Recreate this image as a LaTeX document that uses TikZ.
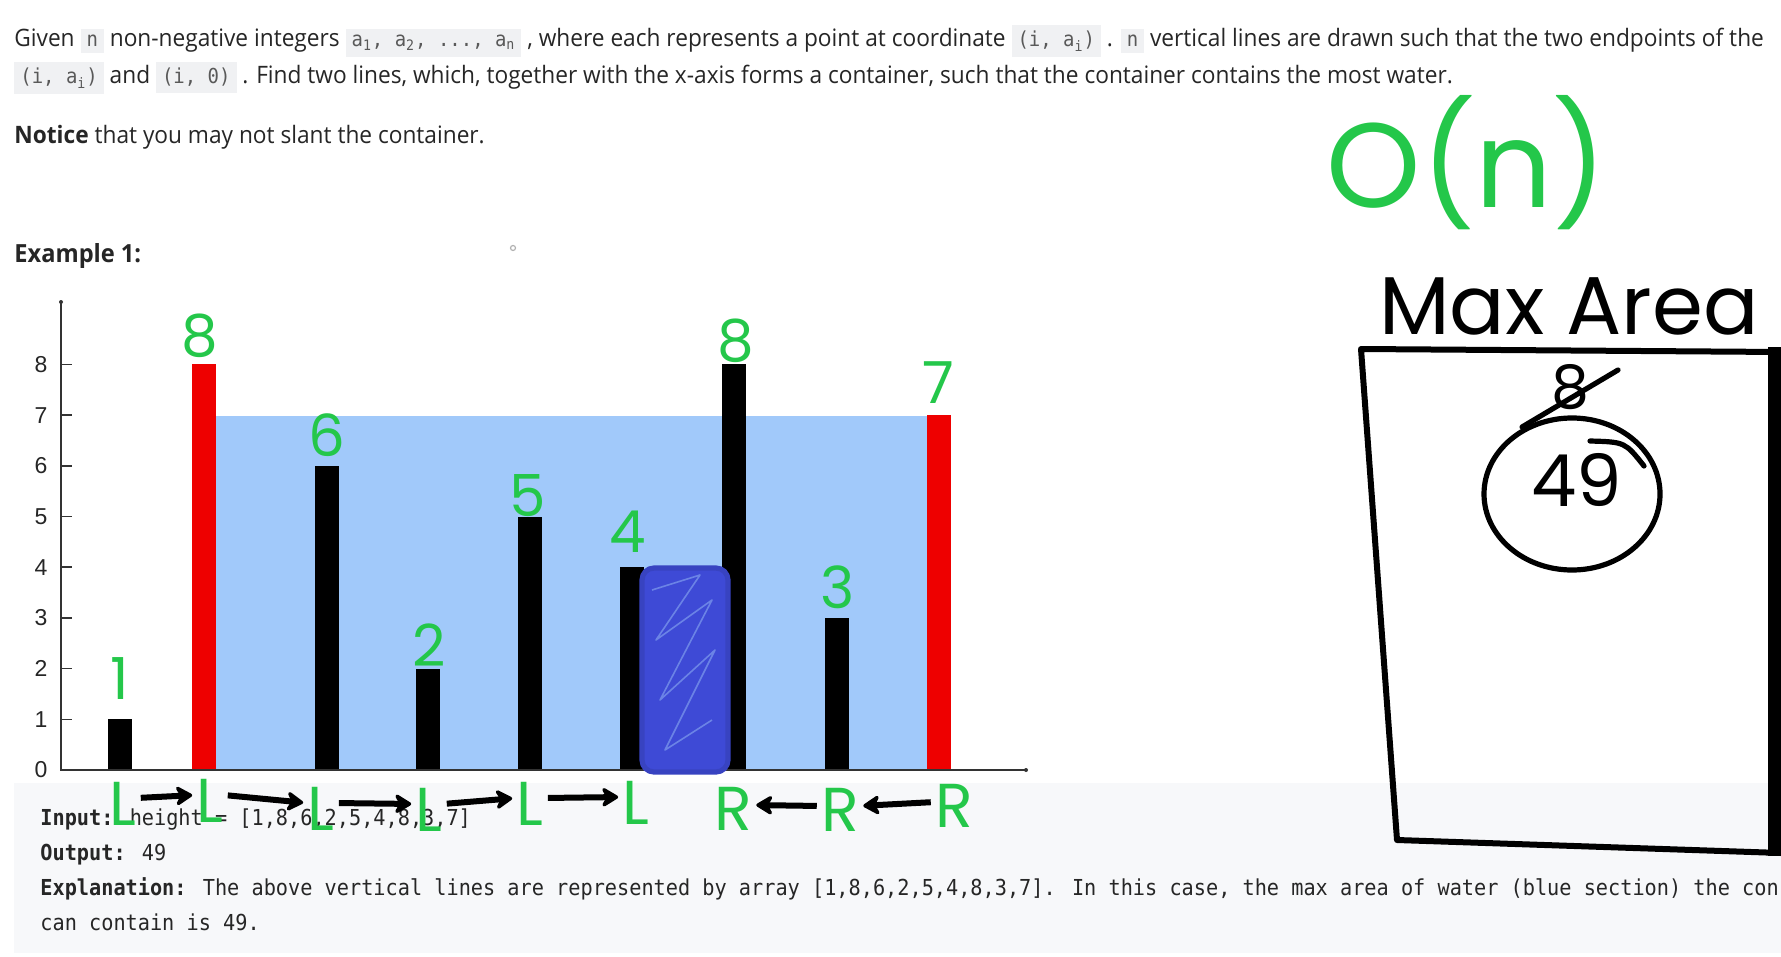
\documentclass[tikz,border=0pt]{standalone}
\usepackage{fontspec}
\usepackage{xcolor}
\usepackage{tikz}
\usetikzlibrary{arrows.meta, positioning, shapes.geometric, calc}

\setmainfont{Open Sans}[FakeStretch=0.945]
\newfontfamily\codefont{DejaVu Sans Mono}[FakeStretch=0.92]
\newfontfamily\handfont{Poppins}
\newfontfamily\chartfont{Liberation Sans}

\definecolor{pengreen}{RGB}{36,199,74}
\definecolor{penblue}{RGB}{62,74,214}
\definecolor{waterblue}{RGB}{161,201,250}
\definecolor{barred}{RGB}{238,0,0}
\definecolor{codebg}{RGB}{247,248,250}
\definecolor{inlinebg}{RGB}{240,241,243}
\definecolor{inktext}{RGB}{38,38,38}

\newcommand{\inl}[1]{{\setlength{\fboxsep}{3pt}\colorbox{inlinebg}{\codefont\fontsize{10.3}{10}\selectfont\color{black!65}#1}}}
\newcommand{\ix}[1]{\textsubscript{#1}}

\begin{document}
\begin{tikzpicture}[x=0.5pt, y=-0.5pt,
    para/.style={anchor=base west, inner sep=0pt, font=\fontsize{12}{14}\selectfont, text=inktext},
    codeline/.style={anchor=base west, inner sep=0pt, font=\codefont\fontsize{11}{13}\selectfont, text=inktext},
    ticklbl/.style={inner sep=0pt, font=\chartfont\fontsize{11.5}{11}\selectfont, text=black!85},
    hand/.style={inner sep=0pt, font=\handfont\fontsize{#1}{#1}\selectfont},
    num/.style={hand=29, text=pengreen},
    ptr/.style={hand=31, text=pengreen},
    move/.style={-{Stealth[length=10pt, width=12pt, round]}, line width=3pt, black, shorten <=2pt, shorten >=2pt},
    pen/.style={line width=2.6pt, black, line cap=round, line join=round},
    axis/.style={line width=0.8pt, black!80}
]

% ---- Page ----
\clip (0,0) rectangle (1781,957);
\fill[white] (0,0) rectangle (1781,957);

% ---- Problem text ----
\node[para] (line1) at (14,47) {Given \inl{n} non-negative integers \inl{a\ix{1}, a\ix{2}, ..., a\ix{n}} , where each represents a point at coordinate \inl{(i, a\ix{i})} . \inl{n} vertical lines are drawn such that the two endpoints of the};
\node[para] (line2) at (14,84) {\inl{(i, a\ix{i})} and \inl{(i, 0)} . Find two lines, which, together with the x-axis forms a container, such that the container contains the most water.};
\node[para] (notice) at (14,144) {\textbf{Notice} that you may not slant the container.};
\node[para, font=\bfseries\fontsize{12.5}{14}\selectfont] (example) at (14,263) {Example 1:};
\draw[black!30, line width=0.6pt] (513,248) circle (2.5);

% ---- Water and bars ----
\fill[waterblue] (216,416) rectangle (927,770);
\foreach \cx/\h/\c in {120/1/black, 204/8/barred, 326.5/6/black, 427.5/2/black, 530/5/black, 632/4/black, 734/8/black, 836.5/3/black, 939/7/barred}
    \fill[\c] (\cx-12,770) rectangle (\cx+12,{770-50.7*\h});

% ---- Axes ----
\draw[axis] (61,302) -- (61,770) -- (1026,770);
\fill[black!80] (61,302) circle (2) (1026,770) circle (2);
\foreach \k in {0,...,8} {
    \draw[axis] (61,{770-50.7*\k}) -- (72,{770-50.7*\k});
    \node[ticklbl] (tick\k) at (41,{770-50.7*\k}) {\k};
}

% ---- Heights written over the bars ----
\node[num] (h1) at (120,679) {1};
\node[num] (h2) at (200,336) {8};
\node[num] (h3) at (327,435) {6};
\node[num] (h4) at (429,645) {2};
\node[num] (h5) at (528,496) {5};
\node[num] (h6) at (628,532) {4};
\node[num] (h7) at (736,341) {8};
\node[num] (h8) at (838,587) {3};
\node[num] (h9) at (938,383) {7};

% ---- Scribbled block ----
\fill[penblue, rounded corners=6pt] (642,568) rectangle (728,772);
\draw[waterblue!45!penblue, line width=0.8pt, line join=round]
    (652,590) -- (700,575) -- (656,640) -- (712,600) -- (660,700) -- (715,650) -- (665,750) -- (712,720);
\draw[pen, penblue!90!black, rounded corners=6pt] (642,568) rectangle (728,772);

% ---- Example code block ----
\fill[codebg] (14,783) rectangle (1781,953);
\node[codeline] (input) at (40,825) {\textbf{Input:} height = [1,8,6,2,5,4,8,3,7]};
\node[codeline] (output) at (40,860) {\textbf{Output:} 49};
\node[codeline] (explain) at (40,895) {\textbf{Explanation:} The above vertical lines are represented by array [1,8,6,2,5,4,8,3,7]. In this case, the max area of water (blue section) the con};
\node[codeline] (explain2) at (40,930) {can contain is 49.};

% ---- Pointers ----
\node[ptr] (l1) at (123,804) {L};
\node[ptr] (l2) at (210,801) {L};
\node[ptr] (l3) at (321,809) {L};
\node[ptr] (l4) at (429,810) {L};
\node[ptr] (l5) at (530,804) {L};
\node[ptr] (l6) at (636,803) {L};
\node[ptr] (r1) at (733,809) {R};
\node[ptr] (r2) at (840,810) {R};
\node[ptr] (r3) at (954,806) {R};
\foreach \a/\b in {l1/l2, l2/l3, l3/l4, l4/l5, l5/l6}
    \draw[move] ([yshift=3pt]\a.east) -- ([yshift=3pt]\b.west);
\foreach \a/\b in {r3/r2, r2/r1}
    \draw[move] ([yshift=2pt]\a.west) -- ([yshift=2pt]\b.east);

% ---- Notes on the right ----
\node[hand=60, text=pengreen] (bigo) at (1467,163) {O(n)};
\node[hand=41] (maxarea) at (1569,306) {Max Area};
\draw[pen, line width=3pt] (1781,352) -- (1361,349) -- (1397,840) -- (1781,853);
\fill[black] (1768,347) rectangle (1781,856);

\node[draw, pen, ellipse, minimum width=88pt, minimum height=76pt] (ring) at (1572,494) {};
\node[hand=36] (best) at (1577,480) {49};
\node[hand=30] (oldbest) at (1570,387) {8};
\coordinate (strikeA) at (1522,427);
\coordinate (strikeB) at (1618,370);
\draw[pen] (strikeA) -- (strikeB);
\draw[pen] (1590,441) .. controls (1625,442) .. (1644,466);

\end{tikzpicture}
\end{document}
